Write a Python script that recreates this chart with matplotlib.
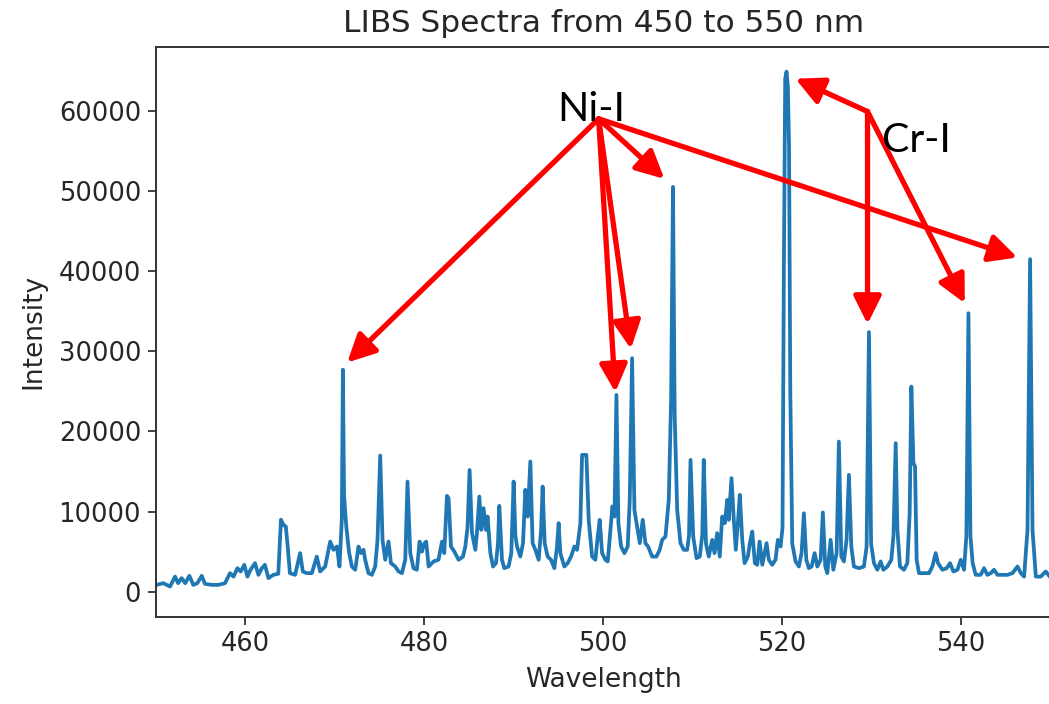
import matplotlib
matplotlib.use("Agg")
import matplotlib.pyplot as plt

# ---- data ----
wavelength = [
    450.1, 450.85, 451.6, 452.16, 452.5, 452.9, 453.3, 453.76, 454.2, 454.65,
    455.15, 455.5, 456.26, 457.0, 457.75, 458.3, 458.7, 459.13, 459.5, 459.9,
    460.25, 460.6, 461.1, 461.48, 461.86, 462.2, 462.6, 463.15, 463.7, 464.0,
    464.27, 464.54, 464.72, 465.0, 465.58, 466.14, 466.44, 466.9, 467.45, 468.0,
    468.38, 468.94, 469.5, 469.87, 470.25, 470.54, 470.8, 470.92, 471.05, 471.3,
    471.6, 471.92, 472.3, 472.66, 472.93, 473.22, 473.41, 473.78, 474.16, 474.53,
    474.79, 475.09, 475.35, 475.65, 476.02, 476.29, 476.77, 477.14, 477.52, 477.89,
    478.14, 478.45, 478.81, 479.19, 479.49, 479.75, 480.0, 480.23, 480.5, 481.05,
    481.6, 482.0, 482.25, 482.55, 482.73, 483.0, 483.37, 483.85, 484.34, 484.6,
    484.85, 485.08, 485.35, 485.72, 485.9, 486.17, 486.39, 486.64, 486.91, 487.09,
    487.4, 487.7, 488.03, 488.25, 488.4, 488.7, 488.96, 489.44, 489.74, 490.0,
    490.2, 490.38, 490.75, 491.05, 491.31, 491.57, 491.87, 492.12, 492.43, 492.8,
    493.07, 493.24, 493.47, 493.8, 494.18, 494.55, 494.85, 495.03, 495.22, 495.67,
    496.04, 496.42, 496.79, 497.09, 497.46, 497.65, 498.13, 498.39, 498.77, 499.14,
    499.4, 499.62, 499.89, 500.26, 500.52, 500.82, 501.04, 501.27, 501.49, 501.71,
    502.01, 502.38, 502.75, 502.98, 503.24, 503.5, 503.8, 504.1, 504.43, 504.73,
    505.03, 505.48, 505.96, 506.33, 506.6, 506.97, 507.34, 507.6, 507.81, 508.0,
    508.28, 508.65, 509.02, 509.4, 509.6, 509.77, 510.07, 510.44, 510.8, 511.08,
    511.25, 511.5, 511.81, 512.19, 512.45, 512.75, 513.04, 513.31, 513.6, 513.87,
    514.05, 514.35, 514.61, 514.83, 515.06, 515.28, 515.55, 515.81, 516.18, 516.4,
    516.67, 516.96, 517.23, 517.49, 517.79, 518.05, 518.27, 518.52, 518.9, 519.27,
    519.53, 519.83, 520.05, 520.2, 520.35, 520.5, 520.65, 520.78, 520.92, 521.14,
    521.51, 521.88, 522.18, 522.44, 522.71, 523.0, 523.3, 523.64, 523.94, 524.31,
    524.56, 524.83, 525.06, 525.43, 525.73, 526.1, 526.35, 526.62, 526.91, 527.21,
    527.47, 527.74, 528.03, 528.59, 529.15, 529.45, 529.71, 529.95, 530.27, 530.65,
    531.02, 531.32, 531.77, 532.21, 532.45, 532.7, 532.89, 533.18, 533.62, 534.0,
    534.26, 534.45, 534.68, 534.86, 535.04, 535.3, 535.86, 536.42, 536.8, 537.17,
    537.43, 537.92, 538.4, 538.77, 539.15, 539.6, 539.97, 540.34, 540.6, 540.83,
    541.05, 541.3, 541.64, 542.2, 542.57, 542.95, 543.32, 543.69, 544.07, 544.63,
    545.19, 545.75, 546.31, 546.68, 547.05, 547.43, 547.72, 547.99, 548.36, 548.91,
    549.47, 549.92,
]
intensity = [
    870, 1080, 660, 1900, 1080, 1710, 1080, 2000, 870, 1080,
    2000, 1000, 870, 870, 1080, 2330, 1900, 2950, 2540, 3370,
    1900, 2750, 3580, 2120, 2950, 3370, 1710, 2120, 2250, 9000,
    8360, 8140, 6070, 2330, 2120, 4830, 2540, 2330, 2330, 4400,
    2540, 3160, 6270, 5240, 5650, 3160, 9000, 27700, 12000, 8140,
    5000, 3160, 2750, 5650, 4830, 5240, 4000, 2330, 2120, 3160,
    6480, 17000, 6480, 4000, 6270, 3580, 3160, 2540, 2330, 4000,
    13750, 4830, 2950, 2750, 6270, 5000, 6000, 6270, 3160, 3790,
    4000, 6270, 4830, 11970, 11680, 5650, 5030, 4000, 4400, 5650,
    8000, 15200, 7320, 5240, 7320, 11880, 7730, 10440, 7730, 9390,
    4830, 3160, 3580, 6000, 10720, 4000, 2950, 3160, 4830, 13750,
    7000, 5650, 4400, 6070, 12720, 9390, 16250, 6070, 5240, 4000,
    7730, 13130, 6070, 4400, 4000, 2950, 5650, 8560, 4830, 3160,
    3580, 4400, 5650, 5240, 8560, 17080, 17080, 8980, 4400, 4000,
    6900, 8980, 4830, 4000, 3790, 7730, 10640, 9390, 24560, 8560,
    5650, 4830, 5650, 11470, 29140, 10220, 8140, 6070, 8980, 6070,
    5650, 4400, 4400, 5240, 6480, 6900, 11470, 24000, 50500, 22000,
    10220, 6070, 5240, 5240, 7000, 16460, 6900, 4200, 4400, 7000,
    16460, 6000, 4400, 6480, 4830, 7320, 4400, 9390, 8560, 11470,
    8980, 14180, 8980, 5240, 8560, 12100, 6480, 3580, 4400, 6070,
    7520, 3580, 3370, 6270, 3370, 4830, 6070, 4000, 3370, 4000,
    6480, 5650, 8000, 40000, 64000, 64880, 63000, 55500, 25000, 6000,
    3790, 3160, 4830, 9800, 4000, 2950, 3160, 4830, 3160, 4000,
    9900, 3160, 2330, 6480, 2750, 4830, 18740, 4400, 3790, 6480,
    14590, 5650, 3160, 2950, 3160, 5650, 32400, 6000, 3580, 2750,
    3790, 2750, 3160, 4000, 7000, 18540, 7730, 3160, 2750, 3580,
    9800, 25600, 16050, 15630, 4000, 2330, 2330, 2330, 3160, 4830,
    3580, 2750, 2950, 3580, 2540, 2750, 4000, 2750, 7000, 34750,
    7000, 3580, 2120, 2120, 2950, 2120, 2330, 2750, 2120, 2120,
    2120, 2330, 3160, 2330, 1900, 7730, 41490, 7730, 1900, 1900,
    2540, 1900,
]
x_ticks = [460, 480, 500, 520, 540]
y_ticks = [0, 10000, 20000, 30000, 40000, 50000, 60000]

# annotation anchors (wavelength, intensity)
ni_label = "Ni-I"
cr_label = "Cr-I"
ni_origin = (499.5, 59000)
cr_origin = (529.55, 59900)
ni_targets = [(471.4, 28600), (501.36, 24900), (503.1, 30300), (506.85, 51500), (546.3, 41700)]
cr_targets = [(521.5, 64000), (529.55, 33400), (540.42, 36000)]

# ---- figure ----
W, H = 1049, 704
fig = plt.figure(figsize=(W / 100, H / 100), dpi=100)
left, right, top, bottom = 155.7, 1050.5, 47, 616.7
ax = fig.add_axes([left / W, (H - bottom) / H, (right - left) / W, (bottom - top) / H])

ax.plot(wavelength, intensity, color="#1f77b4", lw=2.7)
ax.set_xlim(450, 550)
ax.set_ylim(-3100, 67950)
ax.set_xticks(x_ticks)
ax.set_yticks(y_ticks)
ax.tick_params(labelsize=18.5, length=5.5, width=1.3, pad=5, colors="#333333", labelcolor="#262626")
for s in ax.spines.values():
    s.set_linewidth(1.4)
    s.set_color("#333333")
ax.set_xlabel("Wavelength", fontsize=19, color="#262626", labelpad=7)
ax.set_ylabel("Intensity", fontsize=19, color="#262626", labelpad=9)
ax.set_title("LIBS Spectra from 450 to 550 nm", fontsize=22.5, color="#262626", pad=11)

arrow_kw = dict(arrowstyle="-|>,head_length=0.6,head_width=0.3", color="#ff0000",
                lw=3.8, shrinkA=0, shrinkB=0, mutation_scale=28)
for t in ni_targets:
    ax.annotate("", xy=t, xytext=ni_origin, arrowprops=arrow_kw, annotation_clip=False)
for t in cr_targets:
    ax.annotate("", xy=t, xytext=cr_origin, arrowprops=arrow_kw, annotation_clip=False)

ax.text(498.7, 58700, ni_label, fontsize=29.5, family=["Lato", "DejaVu Sans"],
        ha="center", va="baseline", color="black")
ax.text(535.0, 54900, cr_label, fontsize=29.5, family=["Lato", "DejaVu Sans"],
        ha="center", va="baseline", color="black")

fig.savefig("out.png", dpi=100)
